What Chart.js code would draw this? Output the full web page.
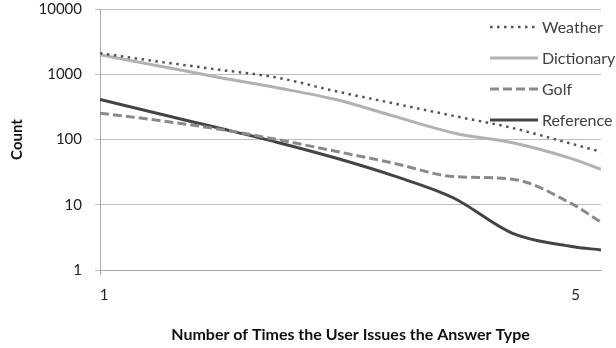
<!DOCTYPE html>
<html>
<head>
<meta charset="utf-8">
<script src="https://cdn.jsdelivr.net/npm/chart.js@4/dist/chart.umd.min.js"></script>
<style>
  html, body { margin: 0; padding: 0; background: #ffffff; }
  #wrap { width: 616px; height: 348px; position: relative; }
</style>
</head>
<body>
<div id="wrap"><canvas id="chart" width="616" height="348"></canvas></div>
<script>
// Number of times an answer type is issued (x) and how often it occurs (count, log scale)
const timesIssued = [1, 1.5, 2, 2.5, 3, 3.5, 4, 4.5, 5, 5.25];
const weather    = [2100, 1560, 1180, 890, 550, 355, 230, 150, 86, 65];
const dictionary = [1990, 1340, 900, 620, 410, 226, 126, 89, 51, 35];
const golf       = [253, 196, 145, 100, 66, 43, 27, 24.6, 10.4, 5.4];
const reference  = [412, 248, 151, 91, 52, 27.4, 12.7, 3.65, 2.3, 2.03];

const xTicks = [1, 5];
const yTicks = [1, 10, 100, 1000, 10000];

const FONT = "Lato, 'Open Sans', sans-serif";

function points(values) {
  return values.map((v, i) => ({ x: timesIssued[i], y: v }));
}

// Legend drawn inside the plot area, top right, from each dataset's own style
const insideLegend = {
  id: 'insideLegend',
  afterDatasetsDraw(chart) {
    const ctx = chart.ctx;
    const x0 = 490, x1 = 538, textX = 542, top = 27, step = 31;
    chart.data.datasets.forEach((ds, i) => {
      const y = top + step * i;
      ctx.save();
      ctx.strokeStyle = ds.borderColor;
      ctx.lineWidth = ds.borderWidth;
      ctx.lineCap = ds.borderCapStyle || 'butt';
      ctx.setLineDash(ds.borderDash || []);
      ctx.beginPath();
      ctx.moveTo(x0, y);
      ctx.lineTo(x1, y);
      ctx.stroke();
      ctx.setLineDash([]);
      ctx.fillStyle = '#404040';
      ctx.font = '16px ' + FONT;
      ctx.textBaseline = 'middle';
      ctx.textAlign = 'left';
      ctx.fillText(ds.label, textX, y + 1);
      ctx.restore();
    });
  }
};

new Chart(document.getElementById('chart'), {
  type: 'line',
  data: {
    datasets: [
      { label: 'Weather', data: points(weather), borderColor: '#555555', borderWidth: 2.5,
        borderDash: [2.5, 4.5], borderCapStyle: 'butt' },
      { label: 'Dictionary', data: points(dictionary), borderColor: '#b2b2b2', borderWidth: 3 },
      { label: 'Golf', data: points(golf), borderColor: '#8a8a8a', borderWidth: 3,
        borderDash: [9, 4] },
      { label: 'Reference', data: points(reference), borderColor: '#444444', borderWidth: 3 }
    ]
  },
  options: {
    responsive: false,
    animation: false,
    events: [],
    layout: { padding: { top: 9, right: 15, left: 0, bottom: 0 } },
    elements: {
      point: { radius: 0 },
      line: { cubicInterpolationMode: 'monotone', fill: false }
    },
    plugins: {
      legend: { display: false },
      tooltip: { enabled: false }
    },
    scales: {
      x: {
        type: 'linear',
        min: 1,
        max: 5.25,
        afterBuildTicks(scale) { scale.ticks = xTicks.map(v => ({ value: v })); },
        afterFit(scale) { scale.height = 78; },
        grid: {
          drawOnChartArea: false,
          drawTicks: true,
          tickLength: 5,
          color: ctx => (ctx.index === 0 ? '#a6a6a6' : 'rgba(0,0,0,0)')
        },
        border: { display: true, color: '#a6a6a6', width: 1 },
        ticks: {
          color: '#222222',
          font: { family: FONT, size: 15 },
          padding: 11,
          labelOffset: 4,
          maxRotation: 0,
          callback: v => String(v)
        },
        title: {
          display: true,
          text: 'Number of Times the User Issues the Answer Type',
          color: '#111111',
          font: { family: FONT, size: 16, weight: 'bold' },
          padding: { top: 0, bottom: 4 }
        }
      },
      y: {
        type: 'logarithmic',
        min: 1,
        max: 10000,
        afterBuildTicks(scale) { scale.ticks = yTicks.map(v => ({ value: v })); },
        afterFit(scale) {
          scale.width = 100;
          scale.paddingTop = 0;
          scale.paddingBottom = 0;
        },
        grid: {
          color: '#bdbdbd',
          lineWidth: 1,
          tickLength: 5
        },
        border: { display: true, color: '#a6a6a6', width: 1 },
        ticks: {
          color: '#222222',
          font: { family: FONT, size: 15 },
          padding: 13,
          callback: v => String(v)
        },
        title: {
          display: true,
          text: 'Count',
          color: '#111111',
          font: { family: FONT, size: 15, weight: 'bold' },
          padding: { top: 8, bottom: 0 }
        }
      }
    }
  },
  plugins: [insideLegend]
});
</script>
</body>
</html>
